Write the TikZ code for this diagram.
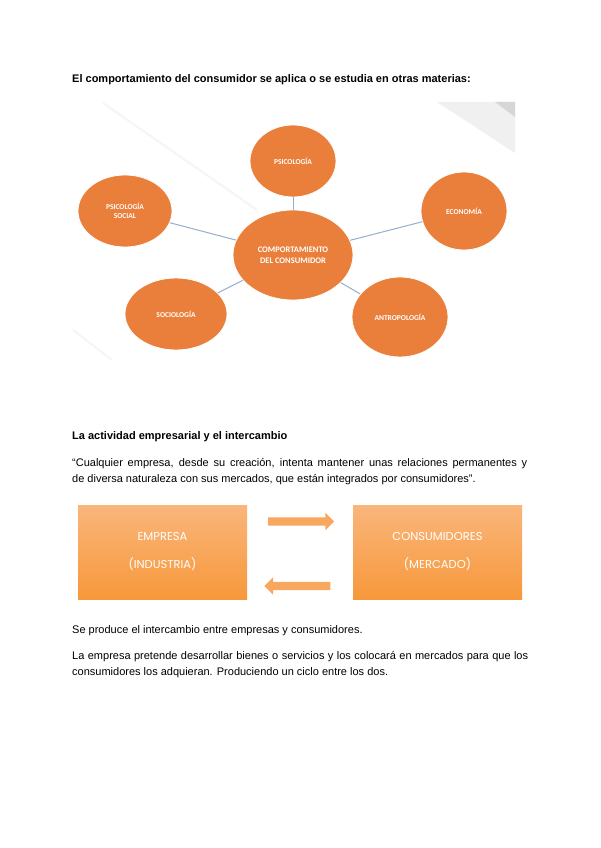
\documentclass[tikz,border=0pt]{standalone}
\usepackage{fontspec}
\setmainfont{Liberation Sans}
\newfontfamily\bubblefont{Carlito}
\newfontfamily\blockfont{Poppins}
\usetikzlibrary{positioning,shapes.geometric,shapes.arrows}
\definecolor{bubblefill}{HTML}{EA7F3B}
\definecolor{spokeline}{HTML}{94AFCD}
\definecolor{blocktop}{HTML}{FAB67B}
\definecolor{blockbot}{HTML}{F7983B}
\definecolor{flowfill}{HTML}{F8A75F}

\begin{document}
\begin{tikzpicture}[
  x=1pt, y=-1pt,
  line/.style={anchor=base west, inner sep=0pt, font=\fontsize{11}{13}\selectfont},
  bubble/.style={
    ellipse,
    fill=bubblefill,
    draw=white,
    line width=0.8pt,
    text=white,
    align=center,
    inner sep=0pt,
    font=\bubblefont\bfseries\fontsize{7.5}{9}\selectfont
  },
  spoke/.style={draw=spokeline, line width=1pt},
  block/.style={
    rectangle,
    minimum width=169pt,
    minimum height=94pt,
    top color=blocktop,
    bottom color=blockbot,
    text=white,
    align=center,
    font=\blockfont\fontsize{11.5}{28}\selectfont
  },
  flow/.style={
    single arrow,
    fill=flowfill,
    minimum width=17pt,
    minimum height=66pt,
    inner xsep=0pt,
    inner ysep=4pt,
    single arrow head extend=4.5pt
  }
]
  \useasboundingbox (0,0) rectangle (600,848);
  \fill[white] (0,0) rectangle (600,848);

  \fill[black!6] (437,102) -- (515,102) -- (515,153) -- cycle;
  \fill[black!16] (495,102) -- (515,102) -- (515,117) -- cycle;
  \draw[black!4, line width=2pt] (103,103) -- (257,210);
  \draw[black!4, line width=2pt] (73,330) -- (112,360);

  \node[line, font=\bfseries\fontsize{11}{13}\selectfont] (title) at (72,83)
    {El comportamiento del consumidor se aplica o se estudia en otras materias:};

  \node[bubble, minimum width=120pt, minimum height=90pt, font=\bubblefont\bfseries\fontsize{8.5}{10.5}\selectfont] (core) at (293,255) {COMPORTAMIENTO\\DEL CONSUMIDOR};
  \node[bubble, minimum width=86pt, minimum height=72pt] (psi) at (293,161) {PSICOLOGÍA};
  \node[bubble, minimum width=86pt, minimum height=78pt] (eco) at (464,211) {ECONOMÍA};
  \node[bubble, minimum width=94pt, minimum height=72pt] (psisoc) at (125,211) {PSICOLOGÍA\\SOCIAL};
  \node[bubble, minimum width=102pt, minimum height=72pt] (soc) at (176,314) {SOCIOLOGÍA};
  \node[bubble, minimum width=96pt, minimum height=80pt] (antro) at (400,317) {ANTROPOLOGÍA};

  \draw[spoke] (core) -- (psi);
  \draw[spoke] (core) -- (eco);
  \draw[spoke] (core) -- (psisoc);
  \draw[spoke] (core) -- (soc);
  \draw[spoke] (core) -- (antro);

  \node[line, font=\bfseries\fontsize{11}{13}\selectfont] (heading) at (72,439)
    {La actividad empresarial y el intercambio};
  \node[line] (quote1) at (72,466)
    {\makebox[455pt][s]{“Cualquier empresa, desde su creación, intenta mantener unas relaciones permanentes y}};
  \node[line] (quote2) at (72,482)
    {de diversa naturaleza con sus mercados, que están integrados por consumidores”.};

  \node[block] (empresa) at (162.5,552) {EMPRESA\\(INDUSTRIA)};
  \node[block] (consumo) at (437.5,552) {CONSUMIDORES\\(MERCADO)};
  \node[flow] (ida) at (299,521.5) {};
  \node[flow, shape border rotate=180] (vuelta) at (299.5,586) {};

  \node[line] (note) at (72,633)
    {Se produce el intercambio entre empresas y consumidores.};
  \node[line] (cycle1) at (72,659)
    {\makebox[456pt][s]{La empresa pretende desarrollar bienes o servicios y los colocará en mercados para que los}};
  \node[line] (cycle2) at (72,675)
    {consumidores los adquieran. Produciendo un ciclo entre los dos.};
\end{tikzpicture}
\end{document}
